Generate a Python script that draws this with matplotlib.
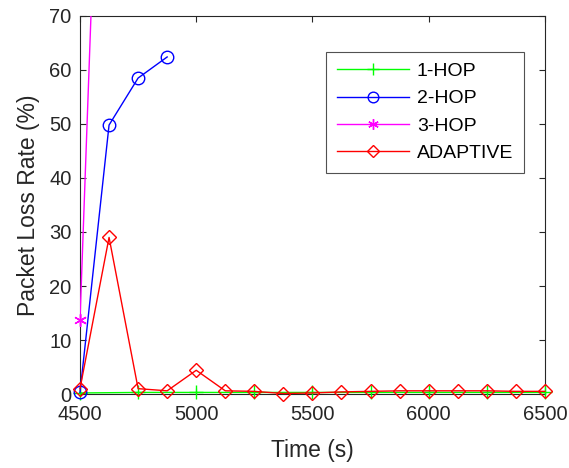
import matplotlib
matplotlib.use("Agg")
import matplotlib.pyplot as plt

plt.rcParams['font.family'] = ['Liberation Sans', 'DejaVu Sans']

# time axis (s)
t_red = [4500, 4625, 4750, 4875, 5000, 5125, 5250, 5375, 5500, 5625,
         5750, 5875, 6000, 6125, 6250, 6375, 6500]
t_one = [4500, 4750, 5000, 5250, 5500, 5750, 6000, 6250, 6500]
t_two = [4500, 4625, 4750, 4875]
t_three = [4500, 4625]

one_hop = [0.2, 0.3, 0.3, 0.3, 0.3, 0.3, 0.3, 0.3, 0.3]
two_hop = [0.3, 49.8, 58.5, 62.4]
three_hop = [13.7, 163.0]
adaptive = [1.0, 29.0, 1.0, 0.6, 4.4, 0.6, 0.5, 0.1, 0.2, 0.4,
            0.5, 0.6, 0.6, 0.6, 0.6, 0.5, 0.5]

fig = plt.figure(figsize=(5.69, 4.68), dpi=100)
ax = fig.add_axes([0.1406, 0.158, 0.817, 0.808])

ax.plot(t_one, one_hop, color='#00ff00', marker='+', markersize=10,
        linewidth=1, label='1-HOP', clip_on=False, zorder=3)
ax.plot(t_two, two_hop, color='#0000ff', marker='o', markersize=9,
        markerfacecolor='none', linewidth=1, label='2-HOP',
        clip_on=False, zorder=3)
ax.plot(t_three, three_hop, color='#ff00ff', marker=(6, 2, 0), markersize=9,
        linewidth=1, label='3-HOP', zorder=3)
# markers of 3-HOP again, not clipped at the left spine
ax.plot(t_three, three_hop, color='#ff00ff', marker=(6, 2, 0), markersize=9,
        linestyle='none', clip_on=False, zorder=3)
ax.plot(t_red, adaptive, color='#ff0000', marker='D', markersize=7.5,
        markerfacecolor='none', linewidth=1, label='ADAPTIVE',
        clip_on=False, zorder=4)

ax.set_xlim(4500, 6500)
ax.set_ylim(0, 70)
ax.set_xticks([4500, 5000, 5500, 6000, 6500])
ax.set_yticks(range(0, 71, 10))
ax.tick_params(direction='in', top=True, right=True, labelsize=14.5,
               colors='#262626', length=4)
ax.tick_params(axis='x', pad=8)
ax.tick_params(axis='y', pad=6)
for s in ax.spines.values():
    s.set_color('#262626')
ax.set_xlabel('Time (s)', fontsize=16.5, color='#262626', labelpad=11)
ax.set_ylabel('Packet Loss Rate (%)', fontsize=16.5, color='#262626',
              labelpad=7)

leg = ax.legend(loc='upper right', bbox_to_anchor=(0.955, 0.905),
                borderaxespad=0, fontsize=14, fancybox=False,
                edgecolor='#262626', handlelength=3.7, handletextpad=0.4,
                borderpad=0.55, labelspacing=0.5, markerscale=0.85)
leg.get_frame().set_linewidth(0.8)

fig.savefig('out.png', dpi=100)
